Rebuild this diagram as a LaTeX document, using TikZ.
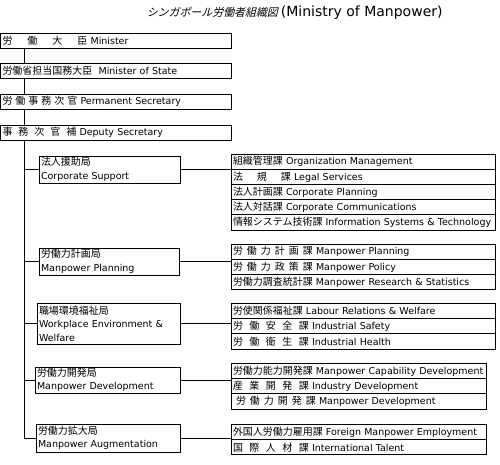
\documentclass[tikz,border=0pt]{standalone}
\usepackage{fontspec}
\setmainfont{DejaVu Sans}
\newfontfamily\jpfont[Scale=1.05]{Noto Sans CJK JP}
\newfontfamily\jpslant[Scale=1.15,FakeSlant=0.25]{Noto Sans CJK JP}
\newcommand{\jp}[1]{{\jpfont #1}}
\usetikzlibrary{positioning}

\begin{document}
\begin{tikzpicture}[
    x=1pt, y=-1pt,
    font=\fontsize{9.5}{13.5}\selectfont,
    line width=0.9pt,
    office/.style={draw, anchor=north west, outer sep=0pt, inner xsep=2pt, inner ysep=0pt,
                   minimum height=15.5pt, text width=226.5pt, align=left},
    bureau/.style={draw, anchor=north west, outer sep=0pt, inner xsep=2pt, inner ysep=0pt,
                   text width=#1, align=left},
    section/.style={draw, outer sep=0pt, inner xsep=2pt, inner ysep=0pt,
                    minimum height=15.2pt, text width=#1, align=left}
]
    \node[anchor=west] (title) at (143,13)
        {{\jpslant シンガポール労働者組織図}\ {\fontsize{14}{16}\selectfont (Ministry of Manpower)}};

    \node[office] (minister) at (0.5,33)
        {\jp{労\hspace{15pt}働\hspace{15pt}大\hspace{15pt}臣} Minister};
    \node[office] (state) at (0.5,63) {\jp{労働省担当国務大臣}\ \ Minister of State};
    \node[office] (permsec) at (0.5,94)
        {\jp{労\hspace{3pt}働\hspace{3pt}事\hspace{3pt}務\hspace{3pt}次\hspace{3pt}官} Permanent Secretary};
    \node[office] (deputy) at (0.5,125)
        {\jp{事\hspace{6pt}務\hspace{6pt}次\hspace{6pt}官\hspace{6pt}補} Deputy Secretary};

    \node[bureau=137pt, minimum height=27pt] (corp) at (39,156) {\jp{法人援助局}\\Corporate Support};
    \node[bureau=136pt, minimum height=27pt] (plan) at (39,248) {\jp{労働力計画局}\\Manpower Planning};
    \node[bureau=139pt, minimum height=41pt] (work) at (37,303)
        {\jp{職場環境福祉局}\\Workplace Environment \&\\Welfare};
    \node[bureau=141pt, minimum height=26pt] (dev) at (35,367) {\jp{労働力開発局}\\Manpower Development};
    \node[bureau=140pt, minimum height=28pt] (aug) at (36,424) {\jp{労働力拡大局}\\Manpower Augmentation};

    \node[section=260pt, anchor=north west] (corp1) at (231,154) {\jp{組織管理課} Organization Management};
    \node[section=260pt, below=0pt of corp1] (corp2) {\jp{法\hspace{14pt}規\hspace{14pt}課} Legal Services};
    \node[section=260pt, below=0pt of corp2] (corp3) {\jp{法人計画課} Corporate Planning};
    \node[section=260pt, below=0pt of corp3] (corp4) {\jp{法人対話課} Corporate Communications};
    \node[section=260pt, below=0pt of corp4] (corp5)
        {\jp{情報システム技術課} Information Systems \& Technology};

    \node[section=260pt, anchor=north west] (plan1) at (231,244)
        {\jp{労\hspace{4pt}働\hspace{4pt}力\hspace{4pt}計\hspace{4pt}画\hspace{4pt}課} Manpower Planning};
    \node[section=260pt, below=0pt of plan1] (plan2)
        {\jp{労\hspace{4pt}働\hspace{4pt}力\hspace{4pt}政\hspace{4pt}策\hspace{4pt}課} Manpower Policy};
    \node[section=260pt, below=0pt of plan2] (plan3) {\jp{労働力調査統計課} Manpower Research \& Statistics};

    \node[section=260pt, anchor=north west] (work1) at (231,303.5) {\jp{労使関係福祉課} Labour Relations \& Welfare};
    \node[section=260pt, below=0pt of work1] (work2)
        {\jp{労\hspace{6.5pt}働\hspace{6.5pt}安\hspace{6.5pt}全\hspace{6.5pt}課} Industrial Safety};
    \node[section=260pt, below=0pt of work2] (work3)
        {\jp{労\hspace{6.5pt}働\hspace{6.5pt}衛\hspace{6.5pt}生\hspace{6.5pt}課} Industrial Health};

    \node[section=251pt, anchor=north west] (dev1) at (231,363.5)
        {\jp{労働力能力開発課} Manpower Capability Development};
    \node[section=251pt, below=0pt of dev1] (dev2)
        {\jp{産\hspace{6.5pt}業\hspace{6.5pt}開\hspace{6.5pt}発\hspace{6.5pt}課} Industry Development};
    \node[section=251pt, below=0pt of dev2] (dev3)
        {\hspace*{3pt}\jp{労\hspace{4pt}働\hspace{4pt}力\hspace{4pt}開\hspace{4pt}発\hspace{4pt}課} Manpower Development};

    \node[section=251pt, anchor=north west] (aug1) at (231,424.5)
        {\jp{外国人労働力雇用課} Foreign Manpower Employment};
    \node[section=251pt, below=0pt of aug1] (aug2)
        {\jp{国\hspace{6.5pt}際\hspace{6.5pt}人\hspace{6.5pt}材\hspace{6.5pt}課} International Talent};

    \coordinate (trunk) at (24,0);
    \draw (trunk |- minister.south) -- (trunk |- state.north);
    \draw (trunk |- state.south) -- (trunk |- permsec.north);
    \draw (trunk |- permsec.south) -- (trunk |- deputy.north);
    \draw (trunk |- deputy.south) -- (trunk |- aug.west);

    \foreach \b/\s in {corp/corp1, plan/plan1, work/work1, dev/dev1, aug/aug1} {
        \draw (trunk |- \b.west) -- (\b.west);
        \draw (\b.east) -- (\b.east -| \s.west);
    }

    \path[use as bounding box] (0,0) rectangle (500,464);
\end{tikzpicture}
\end{document}
